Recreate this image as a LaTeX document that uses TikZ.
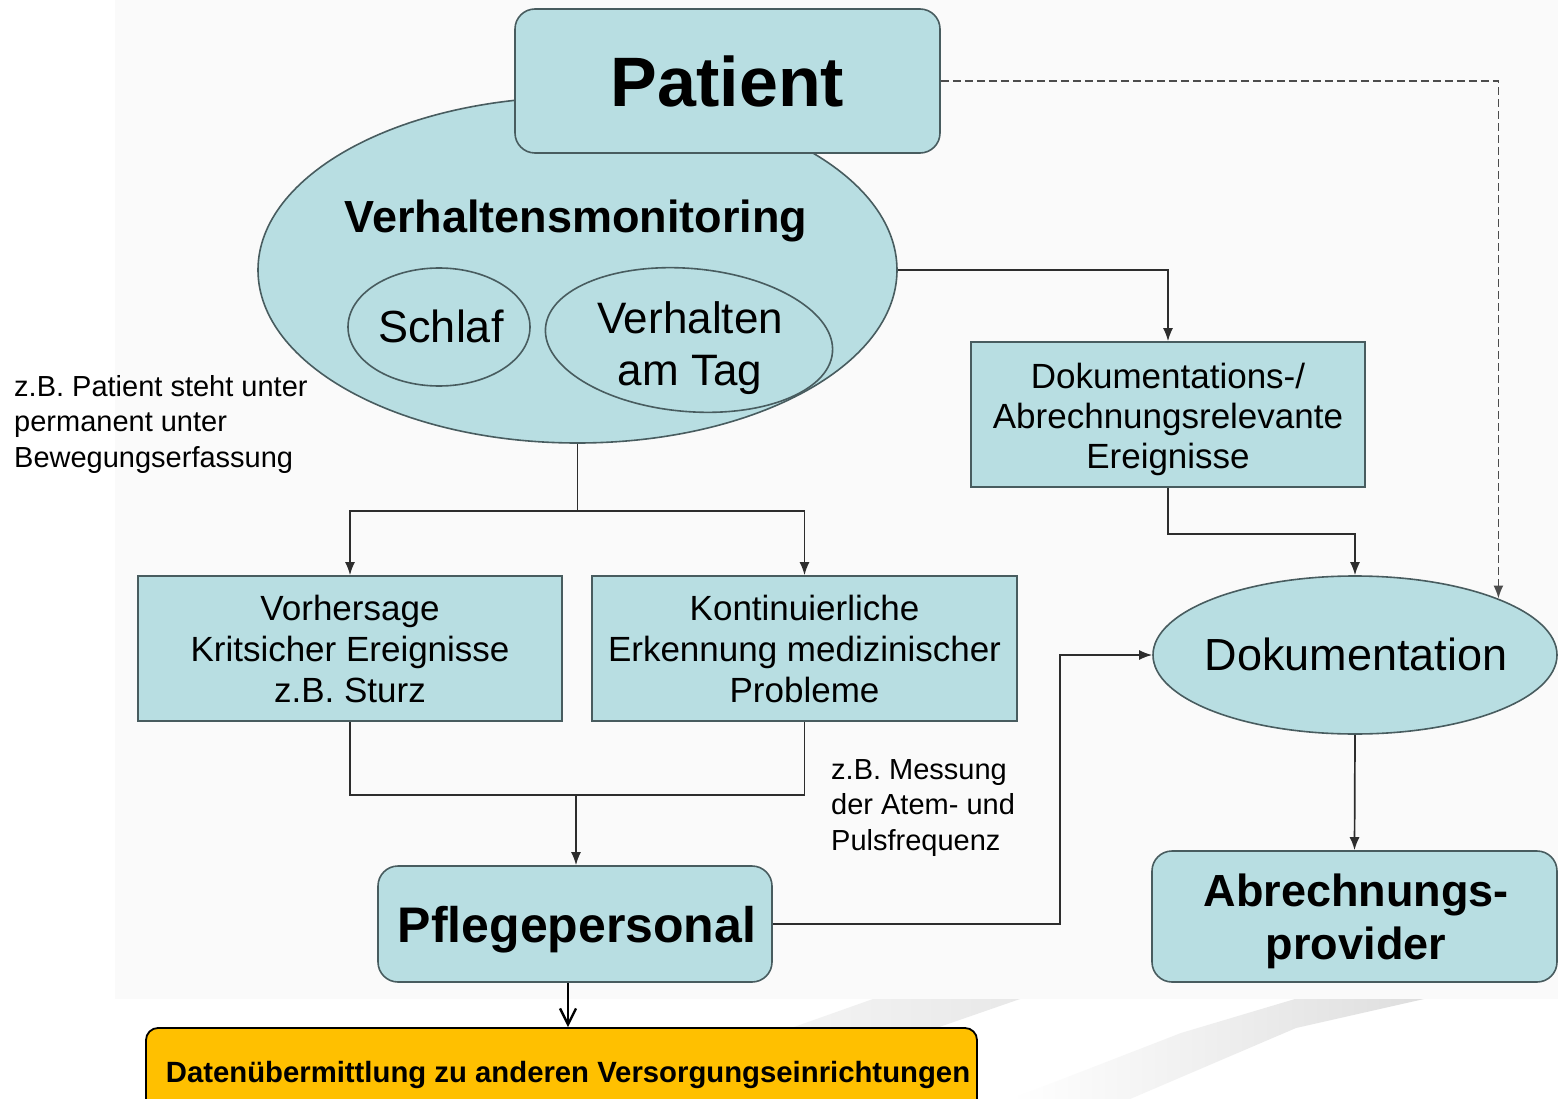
\documentclass[tikz,border=0pt]{standalone}
\usepackage{fontspec}
\setmainfont{Liberation Sans}
\usetikzlibrary{shapes.geometric,arrows.meta}
\definecolor{tealfill}{RGB}{184,222,226}
\definecolor{bord}{RGB}{72,92,95}
\definecolor{lncol}{RGB}{45,45,45}
\definecolor{goldfill}{RGB}{255,192,0}
\newcommand{\fs}[2]{\fontsize{#1}{#2}\selectfont}
\begin{document}
\begin{tikzpicture}[x=1pt,y=-1pt,
  tbox/.style={draw=bord,line width=1.6pt,fill=tealfill,inner sep=0pt,align=center},
  rtbox/.style={tbox,rounded corners=20pt},
  tell/.style={draw=bord,line width=1.6pt,fill=tealfill,ellipse,inner sep=0pt},
  lbl/.style={inner sep=0pt,align=center,anchor=base},
  conn/.style={draw=lncol,line width=1.7pt},
  arr/.style={conn,-{Latex[length=13pt,width=10pt]}},
  note/.style={align=left,anchor=north west,inner sep=0pt,font=\fs{29}{35.5}},
]
\useasboundingbox (0,0) rectangle (1558,1099);
\fill[white] (0,0) rectangle (1558,1099);
\fill[black!2] (115,0) rectangle (1558,999);
% decorative stripes
\shade[left color=white,right color=black!9,shading angle=90]
  (873,999) -- (1020,999) -- (700,1110) -- (560,1110) -- cycle;
\shade[left color=white,right color=black!13]
  (1295,999) -- (1424,999) -- (1296,1028) -- (1130,1099) -- (1011,1099) -- (1181,1033) -- cycle;

% nodes
\node[tell,minimum width=639pt,minimum height=346pt] (vm) at (577.5,270) {};
\node[rtbox,minimum width=425pt,minimum height=144pt,font=\bfseries\fs{70}{84}] (pat) at (727.5,81) {Patient};
\node[lbl,font=\bfseries\fs{45}{54}] (vmt) at (576,233) {Verhaltensmonitoring};
\node[tell,minimum width=182pt,minimum height=118pt] (sch) at (439,327) {};
\node[lbl,font=\fs{45}{54}] (scht) at (441,342) {Schlaf};
\node[tell,minimum width=288pt,minimum height=143pt,rotate=-5] (vat) at (689,340) {};
\node[lbl,font=\fs{44}{52}] (vatt) at (690,385) {Verhalten\\am Tag};

\node[tbox,minimum width=394pt,minimum height=145pt] (dbox) at (1168,414.5) {};
\node[lbl,font=\fs{35}{40}] (dboxt) at (1168,468) {Dokumentations-/\\Abrechnungsrelevante\\Ereignisse};
\node[tbox,minimum width=424pt,minimum height=145pt,font=\fs{35}{41}] (vor) at (350,648.5) {Vorhersage\\Kritsicher Ereignisse\\z.B. Sturz};
\node[tbox,minimum width=425pt,minimum height=145pt,font=\fs{35}{41}] (kon) at (804.5,648.5) {Kontinuierliche\\Erkennung medizinischer\\Probleme};
\node[tell,minimum width=404pt,minimum height=158pt] (dok) at (1355,655) {};
\node[lbl,font=\fs{45}{54}] (dokt) at (1356,670) {Dokumentation};
\node[rtbox,minimum width=405pt,minimum height=131pt] (abr) at (1354.5,916.5) {};
\node[lbl,font=\bfseries\fs{45}{53}] (abrt) at (1356,959) {Abrechnungs-\\provider};
\node[rtbox,minimum width=394pt,minimum height=116pt] (pfl) at (575,924) {};
\node[lbl,font=\bfseries\fs{50}{60}] (pflt) at (577,942) {Pflegepersonal};
\node[draw=black,line width=1.8pt,fill=goldfill,rounded corners=12pt,minimum width=831pt,minimum height=90pt,inner sep=0pt] (yel) at (561.5,1073) {};
\node[lbl,font=\bfseries\fs{29.3}{35}] (yelt) at (568,1082) {Datenübermittlung zu anderen Versorgungseinrichtungen};

% notes
\node[note] (n1) at (14,375) {z.B. Patient steht unter\\permanent unter\\Bewegungserfassung};
\node[note] (n2) at (831,759) {z.B. Messung\\der Atem- und\\Pulsfrequenz};

% connectors
\coordinate (split) at (577.5,511);
\coordinate (join) at (576,795);
\coordinate (bend) at (1060,655);
\draw[conn,dashed,dash pattern=on 8pt off 4pt,draw=black!70,-{Latex[length=13pt,width=10pt]}] (pat.east) -| (dok.north east);
\draw[arr] (vm.east) -| (dbox.north);
\draw[conn] (vm.south) -- (split);
\draw[arr] (split) -| (vor.north);
\draw[arr] (split) -| (kon.north);
\draw[conn] (vor.south) |- (join);
\draw[conn] (kon.south) |- (join);
\draw[arr] (join) -- (join |- pfl.north);
\draw[arr] (dbox.south) -- ++(0,46) -| (dok.north);
\draw[arr] (pfl.east) -| (bend) -- (dok.west);
\draw[arr] (dok.south) -- (abr.north);
\draw[draw=black,line width=2.4pt,-{Straight Barb[length=16pt,width=16pt]}] (pfl.south -| yelt) -- (yelt |- yel.north);
\end{tikzpicture}
\end{document}
